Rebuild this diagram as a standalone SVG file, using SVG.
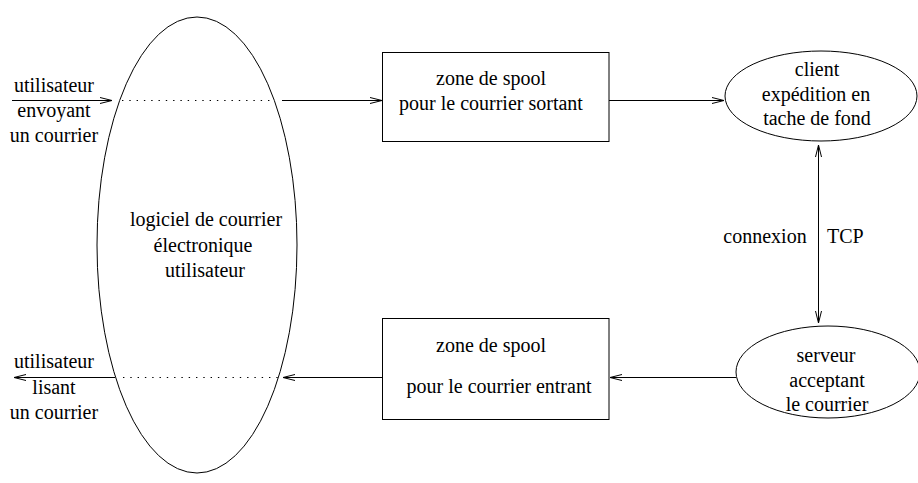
<svg xmlns="http://www.w3.org/2000/svg" width="918" height="483" viewBox="0 0 918 483">
<style>
text{font-family:"Liberation Serif","Times New Roman",serif;font-size:20px;fill:#000;text-anchor:middle}
.s{fill:none;stroke:#000;stroke-width:1}
.d{fill:none;stroke:#000;stroke-width:1;stroke-dasharray:1.4,5.9}
.a{fill:none;stroke:#000;stroke-width:1;marker-end:url(#ah)}
</style>
<defs>
<marker id="ah" markerWidth="14" markerHeight="10" refX="12" refY="4" orient="auto" markerUnits="userSpaceOnUse">
<path d="M0,1 L12,4 L0,7" fill="none" stroke="#000" stroke-width="1"/>
</marker>
</defs>
<g id="mua">
<ellipse class="s" cx="197" cy="245" rx="100" ry="228"/>
<text x="206" y="226">logiciel de courrier</text>
<text x="203" y="252">électronique</text>
<text x="205" y="277">utilisateur</text>
</g>
<g id="spool-out">
<rect class="s" x="382.5" y="52.5" width="226.5" height="89"/>
<text x="491" y="85">zone de spool</text>
<text x="491" y="110">pour le courrier sortant</text>
</g>
<g id="spool-in">
<rect class="s" x="382.5" y="318.5" width="226.5" height="101"/>
<text x="491" y="352">zone de spool</text>
<text x="499" y="393">pour le courrier entrant</text>
</g>
<g id="client">
<ellipse class="s" cx="821" cy="96" rx="96" ry="45"/>
<text x="817" y="76">client</text>
<text x="816" y="101">expédition en</text>
<text x="817" y="125">tache de fond</text>
</g>
<g id="server">
<ellipse class="s" cx="828" cy="372" rx="92" ry="46"/>
<text x="826" y="362">serveur</text>
<text x="827" y="387">acceptant</text>
<text x="827" y="411">le courrier</text>
</g>
<g id="labels">
<text x="54" y="92">utilisateur</text>
<text x="54" y="117">envoyant</text>
<text x="54" y="142">un courrier</text>
<text x="54" y="368">utilisateur</text>
<text x="54" y="394">lisant</text>
<text x="54" y="419">un courrier</text>
<text x="765" y="243">connexion</text>
<text x="827" y="243" style="text-anchor:start">TCP</text>
</g>
<g id="connectors">
<line class="a" x1="12" y1="100.5" x2="112" y2="100.5"/>
<line class="d" x1="122" y1="100.5" x2="275" y2="100.5"/>
<line class="a" x1="282" y1="100.5" x2="382" y2="100.5"/>
<line class="a" x1="609" y1="100.5" x2="724" y2="100.5"/>
<line class="a" x1="818.5" y1="240" x2="818.5" y2="145"/>
<line class="a" x1="818.5" y1="240" x2="818.5" y2="323"/>
<line class="a" x1="736" y1="377.5" x2="610" y2="377.5"/>
<line class="a" x1="382" y1="377.5" x2="283" y2="377.5"/>
<line class="d" x1="123" y1="377.5" x2="279" y2="377.5"/>
<line class="a" x1="115" y1="377.5" x2="14" y2="377.5"/>
</g>
</svg>
